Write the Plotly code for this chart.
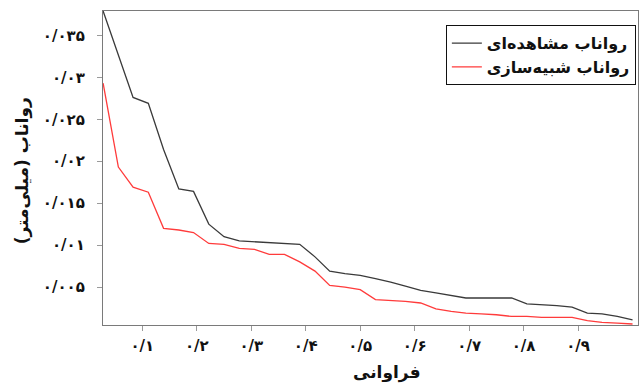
import plotly.graph_objects as go

# Exceedance frequency (plotting position) of each ranked runoff value
frequency = [0.028, 0.056, 0.083, 0.111, 0.139, 0.167, 0.194, 0.222, 0.250,
             0.278, 0.306, 0.333, 0.361, 0.389, 0.417, 0.444, 0.472, 0.500,
             0.528, 0.556, 0.583, 0.611, 0.639, 0.667, 0.694, 0.722, 0.750,
             0.778, 0.806, 0.833, 0.861, 0.889, 0.917, 0.944, 0.972, 1.000]

# Observed runoff (mm), ranked
observed = [0.0379, 0.0327, 0.0276, 0.0269, 0.0214, 0.0167, 0.0164, 0.0125,
            0.0110, 0.0105, 0.0104, 0.0103, 0.0102, 0.0101, 0.0086, 0.0069,
            0.0066, 0.0064, 0.0060, 0.0056, 0.0051, 0.0046, 0.0043, 0.0040,
            0.0037, 0.0037, 0.0037, 0.0037, 0.0030, 0.0029, 0.0028, 0.0026,
            0.0019, 0.0018, 0.0015, 0.0011]

# Simulated runoff (mm), ranked
simulated = [0.0293, 0.0193, 0.0169, 0.0163, 0.0120, 0.0118, 0.0115, 0.0102,
             0.0101, 0.0096, 0.0095, 0.0089, 0.0089, 0.0080, 0.0069, 0.0052,
             0.0050, 0.0047, 0.0035, 0.0034, 0.0033, 0.0031, 0.0024, 0.0021,
             0.0019, 0.0018, 0.0017, 0.0015, 0.0015, 0.0014, 0.0014, 0.0014,
             0.0010, 0.0008, 0.0007, 0.0006]

x_tick_vals = [0.1, 0.2, 0.3, 0.4, 0.5, 0.6, 0.7, 0.8, 0.9]
x_tick_text = ["۰/۱", "۰/۲", "۰/۳", "۰/۴", "۰/۵", "۰/۶", "۰/۷", "۰/۸", "۰/۹"]
y_tick_vals = [0.005, 0.01, 0.015, 0.02, 0.025, 0.03, 0.035]
y_tick_text = ["۰/۰۰۵", "۰/۰۱", "۰/۰۱۵", "۰/۰۲", "۰/۰۲۵", "۰/۰۳", "۰/۰۳۵"]

FONT = "DejaVu Sans"
TICK_FONT = dict(family=FONT, size=15, color="#111111", weight="bold")
LEGEND_FONT = dict(family=FONT, size=16, color="#111111", weight="bold")
TITLE_FONT = dict(family=FONT, size=17, color="#111111", weight="bold")

fig = go.Figure()
fig.add_trace(go.Scatter(x=frequency, y=observed, mode="lines",
                         name="رواناب مشاهده‌ای",
                         line=dict(color="#3a3a3a", width=1.3)))
fig.add_trace(go.Scatter(x=frequency, y=simulated, mode="lines",
                         name="رواناب شبیه‌سازی",
                         line=dict(color="#ff3b3b", width=1.3)))

axis_common = dict(showline=True, linecolor="#7a7a7a", linewidth=1.2,
                   mirror=True, ticks="outside", ticklen=5,
                   tickcolor="#9a9a9a", showgrid=False, zeroline=False,
                   tickfont=TICK_FONT)

fig.update_xaxes(range=[0.0278, 1.01], tickvals=x_tick_vals,
                 ticktext=x_tick_text, ticklabelstandoff=2, **axis_common)
fig.update_yaxes(range=[0.00048, 0.0379], tickvals=y_tick_vals,
                 ticktext=y_tick_text, ticklabelstandoff=9, **axis_common)

fig.add_annotation(text="فراوانی", xref="paper", yref="paper",
                   x=0.53, y=-0.15, yanchor="middle", showarrow=False,
                   font=TITLE_FONT)
fig.add_annotation(text="رواناب (میلی‌متر)", xref="paper", yref="paper",
                   x=-0.151, y=0.49, xanchor="center", textangle=-90,
                   showarrow=False, font=TITLE_FONT)

fig.update_layout(
    width=639, height=387,
    margin=dict(l=103, r=1, t=11, b=62),
    plot_bgcolor="white", paper_bgcolor="white",
    legend=dict(x=0.996, y=0.955, xanchor="right", yanchor="top",
                bordercolor="#111111", borderwidth=1, bgcolor="white",
                font=LEGEND_FONT, tracegroupgap=0, itemwidth=30),
)

fig.write_html("out.html")
